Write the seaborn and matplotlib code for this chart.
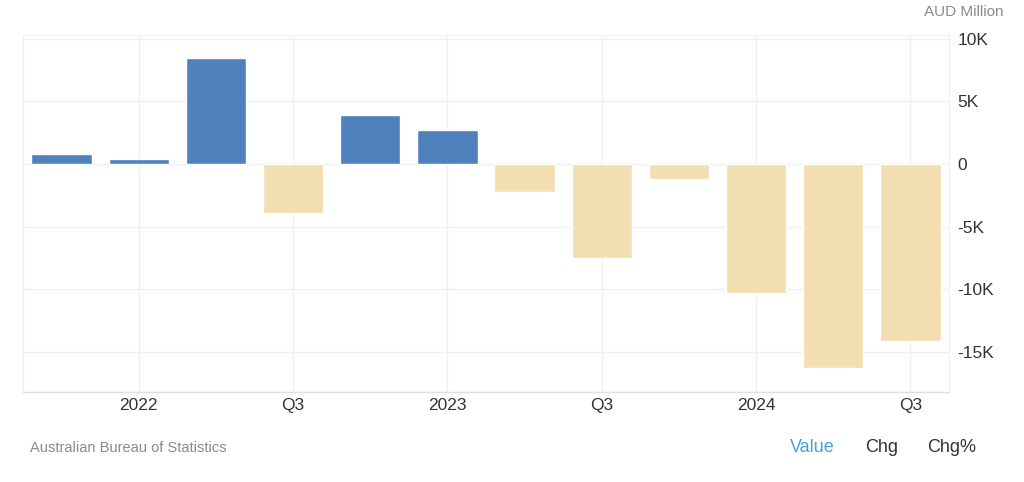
import matplotlib
matplotlib.use("Agg")
import matplotlib.pyplot as plt
import seaborn as sns
import pandas as pd

quarters = ["2021Q4", "2022Q1", "2022Q2", "2022Q3", "2022Q4", "2023Q1",
            "2023Q2", "2023Q3", "2023Q4", "2024Q1", "2024Q2", "2024Q3"]
values = [800, 400, 8500, -3900, 3900, 2700, -2200, -7500, -1200, -10300, -16300, -14100]
tick_quarters = ["2022Q1", "2022Q3", "2023Q1", "2023Q3", "2024Q1", "2024Q3"]
tick_labels = ["2022", "Q3", "2023", "Q3", "2024", "Q3"]
y_ticks = [10000, 5000, 0, -5000, -10000, -15000]
y_tick_labels = ["10K", "5K", "0", "-5K", "-10K", "-15K"]

df = pd.DataFrame({"quarter": quarters, "value": values})
df["sign"] = ["pos" if v >= 0 else "neg" for v in values]

sns.set_theme(style="white")
plt.rcParams["font.family"] = ["Liberation Sans", "DejaVu Sans"]

fig = plt.figure(figsize=(10.24, 4.82), dpi=100)
ax = fig.add_axes([23 / 1024, (482 - 392) / 482, (949 - 23) / 1024, (392 - 35) / 482])

sns.barplot(data=df, x="quarter", y="value", hue="sign", order=quarters,
            palette={"pos": "#4F81BD", "neg": "#F3DEB2"}, dodge=False,
            width=0.78, legend=False, ax=ax, saturation=1)

ax.set_xlim(-0.5, len(quarters) - 0.5)
ax.set_ylim(-18200, 10300)

ax.set_xticks([quarters.index(q) for q in tick_quarters])
ax.set_xticklabels(tick_labels)
ax.set_yticks(y_ticks)
ax.set_yticklabels(y_tick_labels)
ax.yaxis.tick_right()
ax.tick_params(axis="both", length=0, labelsize=12.5, labelcolor="#333333")
ax.tick_params(axis="x", pad=4)
ax.tick_params(axis="y", pad=6)
ax.set_xlabel("")
ax.set_ylabel("")

ax.grid(True, color="#f0f0f0", linewidth=1)
ax.set_axisbelow(True)
for s in ["top", "left", "right"]:
    ax.spines[s].set_color("#f0f0f0")
    ax.spines[s].set_linewidth(1)
ax.spines["bottom"].set_color("#e0e0e0")
ax.spines["bottom"].set_linewidth(1)

fig.text(1004 / 1024, 1 - 12 / 482, "AUD Million", ha="right", va="center",
         fontsize=11, color="#8a8a8a")
fig.text(30 / 1024, 1 - 448 / 482, "Australian Bureau of Statistics", ha="left",
         va="center", fontsize=10.5, color="#8a8a8a")
fig.text(790 / 1024, 1 - 447 / 482, "Value", ha="left", va="center",
         fontsize=13, color="#4A9FE0")
fig.text(865 / 1024, 1 - 447 / 482, "Chg", ha="left", va="center",
         fontsize=13, color="#333333")
fig.text(927 / 1024, 1 - 447 / 482, "Chg%", ha="left", va="center",
         fontsize=13, color="#333333")

fig.savefig("out.png", dpi=100, facecolor="white")
